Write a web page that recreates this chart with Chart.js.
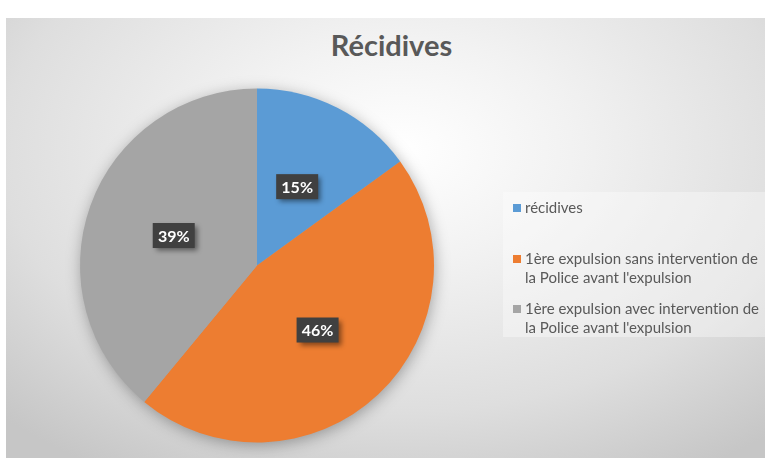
<!DOCTYPE html>
<html>
<head>
<meta charset="utf-8">
<script src="https://cdn.jsdelivr.net/npm/chart.js@4.4.1/dist/chart.umd.min.js"></script>
<style>
  html, body { margin: 0; padding: 0; background: #ffffff; }
  #wrap { position: relative; width: 765px; height: 458px; overflow: hidden; }
  #bg { position: absolute; left: 6px; top: 18px; width: 759px; height: 440px;
        background: radial-gradient(ellipse 75% 85% at 52% 30%, #ffffff 0%, #f2f2f2 30%, #dedede 70%, #c6c6c6 100%); }
  #title { position: absolute; left: 12px; width: 759px; top: 27px; text-align: center;
           font-family: Lato, "Open Sans", sans-serif; font-weight: bold; font-size: 29px; color: #595959; }
  #chartBox { position: absolute; left: 0; top: 0; width: 765px; height: 458px; }
  #legend { position: absolute; left: 503px; top: 192px; width: 262px; height: 145px;
            background: rgba(255,255,255,0.35); font-family: Lato, "Open Sans", sans-serif;
            font-size: 15px; color: #595959; line-height: 19px;
            font-variant-ligatures: none; font-feature-settings: "liga" 0; }
  .item { position: absolute; left: 22px; width: 240px; white-space: nowrap; }
  .sw { position: absolute; left: -12px; top: 6px; width: 8px; height: 8px; }
</style>
</head>
<body>
<div id="wrap">
  <div id="bg"></div>
  <div id="title"></div>
  <div id="chartBox"><canvas id="c"></canvas></div>
  <div id="legend"></div>
</div>
<script>
const chartTitle = "Récidives";
const categories = [
  "récidives",
  "1ère expulsion sans intervention de la Police avant l'expulsion",
  "1ère expulsion avec intervention de la Police avant l'expulsion"
];
const legendLines = [
  ["récidives"],
  ["1ère expulsion sans intervention de", "la Police avant l'expulsion"],
  ["1ère expulsion avec intervention de", "la Police avant l'expulsion"]
];
const values = [15, 46, 39];
const colors = ["#5B9BD5", "#ED7D31", "#A5A5A5"];

document.getElementById('title').textContent = chartTitle;

// HTML legend
const legendTops = [6, 57, 107];
const lg = document.getElementById('legend');
legendLines.forEach((lines, i) => {
  const d = document.createElement('div');
  d.className = 'item';
  d.style.top = legendTops[i] + 'px';
  const sw = document.createElement('span');
  sw.className = 'sw';
  sw.style.background = colors[i];
  d.appendChild(sw);
  lines.forEach((t, j) => {
    if (j > 0) d.appendChild(document.createElement('br'));
    d.appendChild(document.createTextNode(t));
  });
  lg.appendChild(d);
});

const pieShadow = {
  id: 'pieShadow',
  beforeDatasetsDraw(chart) {
    const arc = chart.getDatasetMeta(0).data[0];
    if (!arc) return;
    const ctx = chart.ctx;
    ctx.save();
    ctx.shadowColor = 'rgba(0,0,0,0.35)';
    ctx.shadowBlur = 16;
    ctx.shadowOffsetX = 1;
    ctx.shadowOffsetY = 3;
    ctx.beginPath();
    ctx.arc(arc.x, arc.y, arc.outerRadius - 1, 0, Math.PI * 2);
    ctx.fillStyle = '#a5a5a5';
    ctx.fill();
    ctx.restore();
  }
};

const dataLabels = {
  id: 'dataLabels',
  afterDatasetsDraw(chart) {
    const ctx = chart.ctx;
    const meta = chart.getDatasetMeta(0);
    const total = values.reduce((a, b) => a + b, 0);
    meta.data.forEach((arc, i) => {
      const p = arc.tooltipPosition();
      const txt = Math.round(values[i] / total * 100) + '%';
      const w = 42, h = 25;
      ctx.save();
      ctx.shadowColor = 'rgba(0,0,0,0.45)';
      ctx.shadowBlur = 5;
      ctx.shadowOffsetX = 3;
      ctx.shadowOffsetY = 3;
      ctx.fillStyle = '#404040';
      ctx.fillRect(p.x - w / 2, p.y - h / 2, w, h);
      ctx.restore();
      ctx.save();
      ctx.font = 'bold 16px Lato, "Open Sans", sans-serif';
      ctx.fillStyle = '#ffffff';
      ctx.textAlign = 'center';
      ctx.textBaseline = 'middle';
      ctx.fillText(txt, p.x, p.y + 1);
      ctx.restore();
    });
  }
};

new Chart(document.getElementById('c'), {
  type: 'pie',
  data: {
    labels: categories,
    datasets: [{
      data: values,
      backgroundColor: colors,
      borderWidth: 0
    }]
  },
  options: {
    responsive: true,
    maintainAspectRatio: false,
    animation: false,
    layout: { padding: { left: 80, right: 331, top: 88, bottom: 15 } },
    plugins: {
      legend: { display: false },
      title: { display: false },
      tooltip: { enabled: false }
    }
  },
  plugins: [pieShadow, dataLabels]
});
</script>
</body>
</html>
